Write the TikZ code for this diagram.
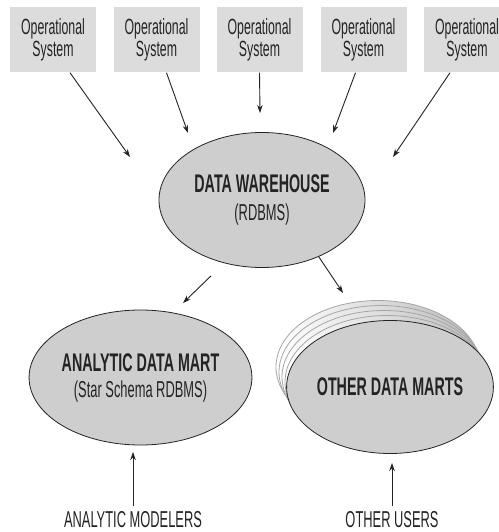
\documentclass[tikz,border=0pt]{standalone}
\usepackage{fontspec}
\setmainfont{Liberation Sans}[FakeStretch=0.56]
\usetikzlibrary{arrows.meta,shapes.geometric}
\definecolor{boxgray}{RGB}{220,220,220}
\definecolor{ellgray}{RGB}{206,206,206}
\definecolor{ink}{RGB}{35,35,35}
\tikzset{
  opbox/.style={fill=boxgray, draw=none, minimum width=86bp, minimum height=65bp, inner sep=0pt, align=center, font=\fontsize{22bp}{22bp}\selectfont, text=ink},
  dbell/.style={ellipse, draw=ink, line width=0.8bp, fill=ellgray, inner sep=0pt, align=center, text=ink},
  backell/.style={ellipse, draw=gray!70, line width=0.8bp, left color=white, right color=gray!55, shading angle=90, inner sep=0pt, minimum width=204bp, minimum height=133bp},
  arr/.style={draw=ink, line width=0.9bp, -{Stealth[length=8bp,width=5.5bp]}},
  lbl/.style={font=\fontsize{23bp}{25bp}\selectfont, text=ink, inner sep=0pt},
  headf/.style={font=\fontsize{25.5bp}{28bp}\selectfont},
}
\newcommand{\hd}[1]{{\fontsize{25.5bp}{26bp}\selectfont\bfseries #1}}
\begin{document}
\begin{tikzpicture}[x=1bp,y=-1bp]
\useasboundingbox (0,0) rectangle (499,532);
\clip (0,0) rectangle (499,532);
\fill[white] (0,0) rectangle (499,532);
% operational systems
\node[opbox] (o1) at (53,40) {Operational\\System};
\node[opbox] (o2) at (156.5,40) {Operational\\System};
\node[opbox] (o3) at (259.5,40) {Operational\\System};
\node[opbox] (o4) at (363.5,40) {Operational\\System};
\node[opbox] (o5) at (467,40) {Operational\\System};
% data warehouse
\node[dbell, minimum width=206bp, minimum height=135bp, font=\fontsize{23bp}{28bp}\selectfont] (dw) at (262,200)
  {\hd{DATA WAREHOUSE}\\(RDBMS)};
% arrow ends
\coordinate (e1) at (130,157);
\coordinate (e2) at (188,133);
\coordinate (e3) at (260,113);
\coordinate (e4) at (333,133);
\coordinate (e5) at (393,157);
\draw[arr] ([xshift=17bp]o1.south) -- (e1);
\draw[arr] ([xshift=10bp]o2.south) -- (e2);
\draw[arr] (o3.south) -- (e3);
\draw[arr] ([xshift=-8bp]o4.south) -- (e4);
\draw[arr] ([xshift=-17bp]o5.south) -- (e5);
% analytic data mart
\node[dbell, minimum width=205bp, minimum height=135bp, font=\fontsize{23bp}{26bp}\selectfont] (adm) at (140.5,377.5)
  {\hd{ANALYTIC DATA MART}\\(Star Schema RDBMS)};
% other data marts (stack)
\node[backell] (b4) at (378,367) {};
\node[backell] (b3) at (381,372) {};
\node[backell] (b2) at (384,377) {};
\node[backell] (b1) at (387,382) {};
\node[dbell, minimum width=204bp, minimum height=133bp] (odm) at (390,387)
  {\hd{OTHER DATA MARTS}};
% arrows from warehouse
\coordinate (f1) at (183,303);
\coordinate (f2) at (343,293);
\draw[arr] ([shift={(-51bp,-8bp)}]dw.south) -- (f1);
\draw[arr] (dw.-45) -- (f2);
% users
\node[lbl] (am) at (133,520) {ANALYTIC MODELERS};
\node[lbl] (ou) at (392,520) {OTHER USERS};
\draw[arr] ([yshift=6bp]am.north) -- (am.north |- 0,452);
\draw[arr] ([yshift=6bp]ou.north) -- (ou.north |- 0,463);
\end{tikzpicture}
\end{document}
